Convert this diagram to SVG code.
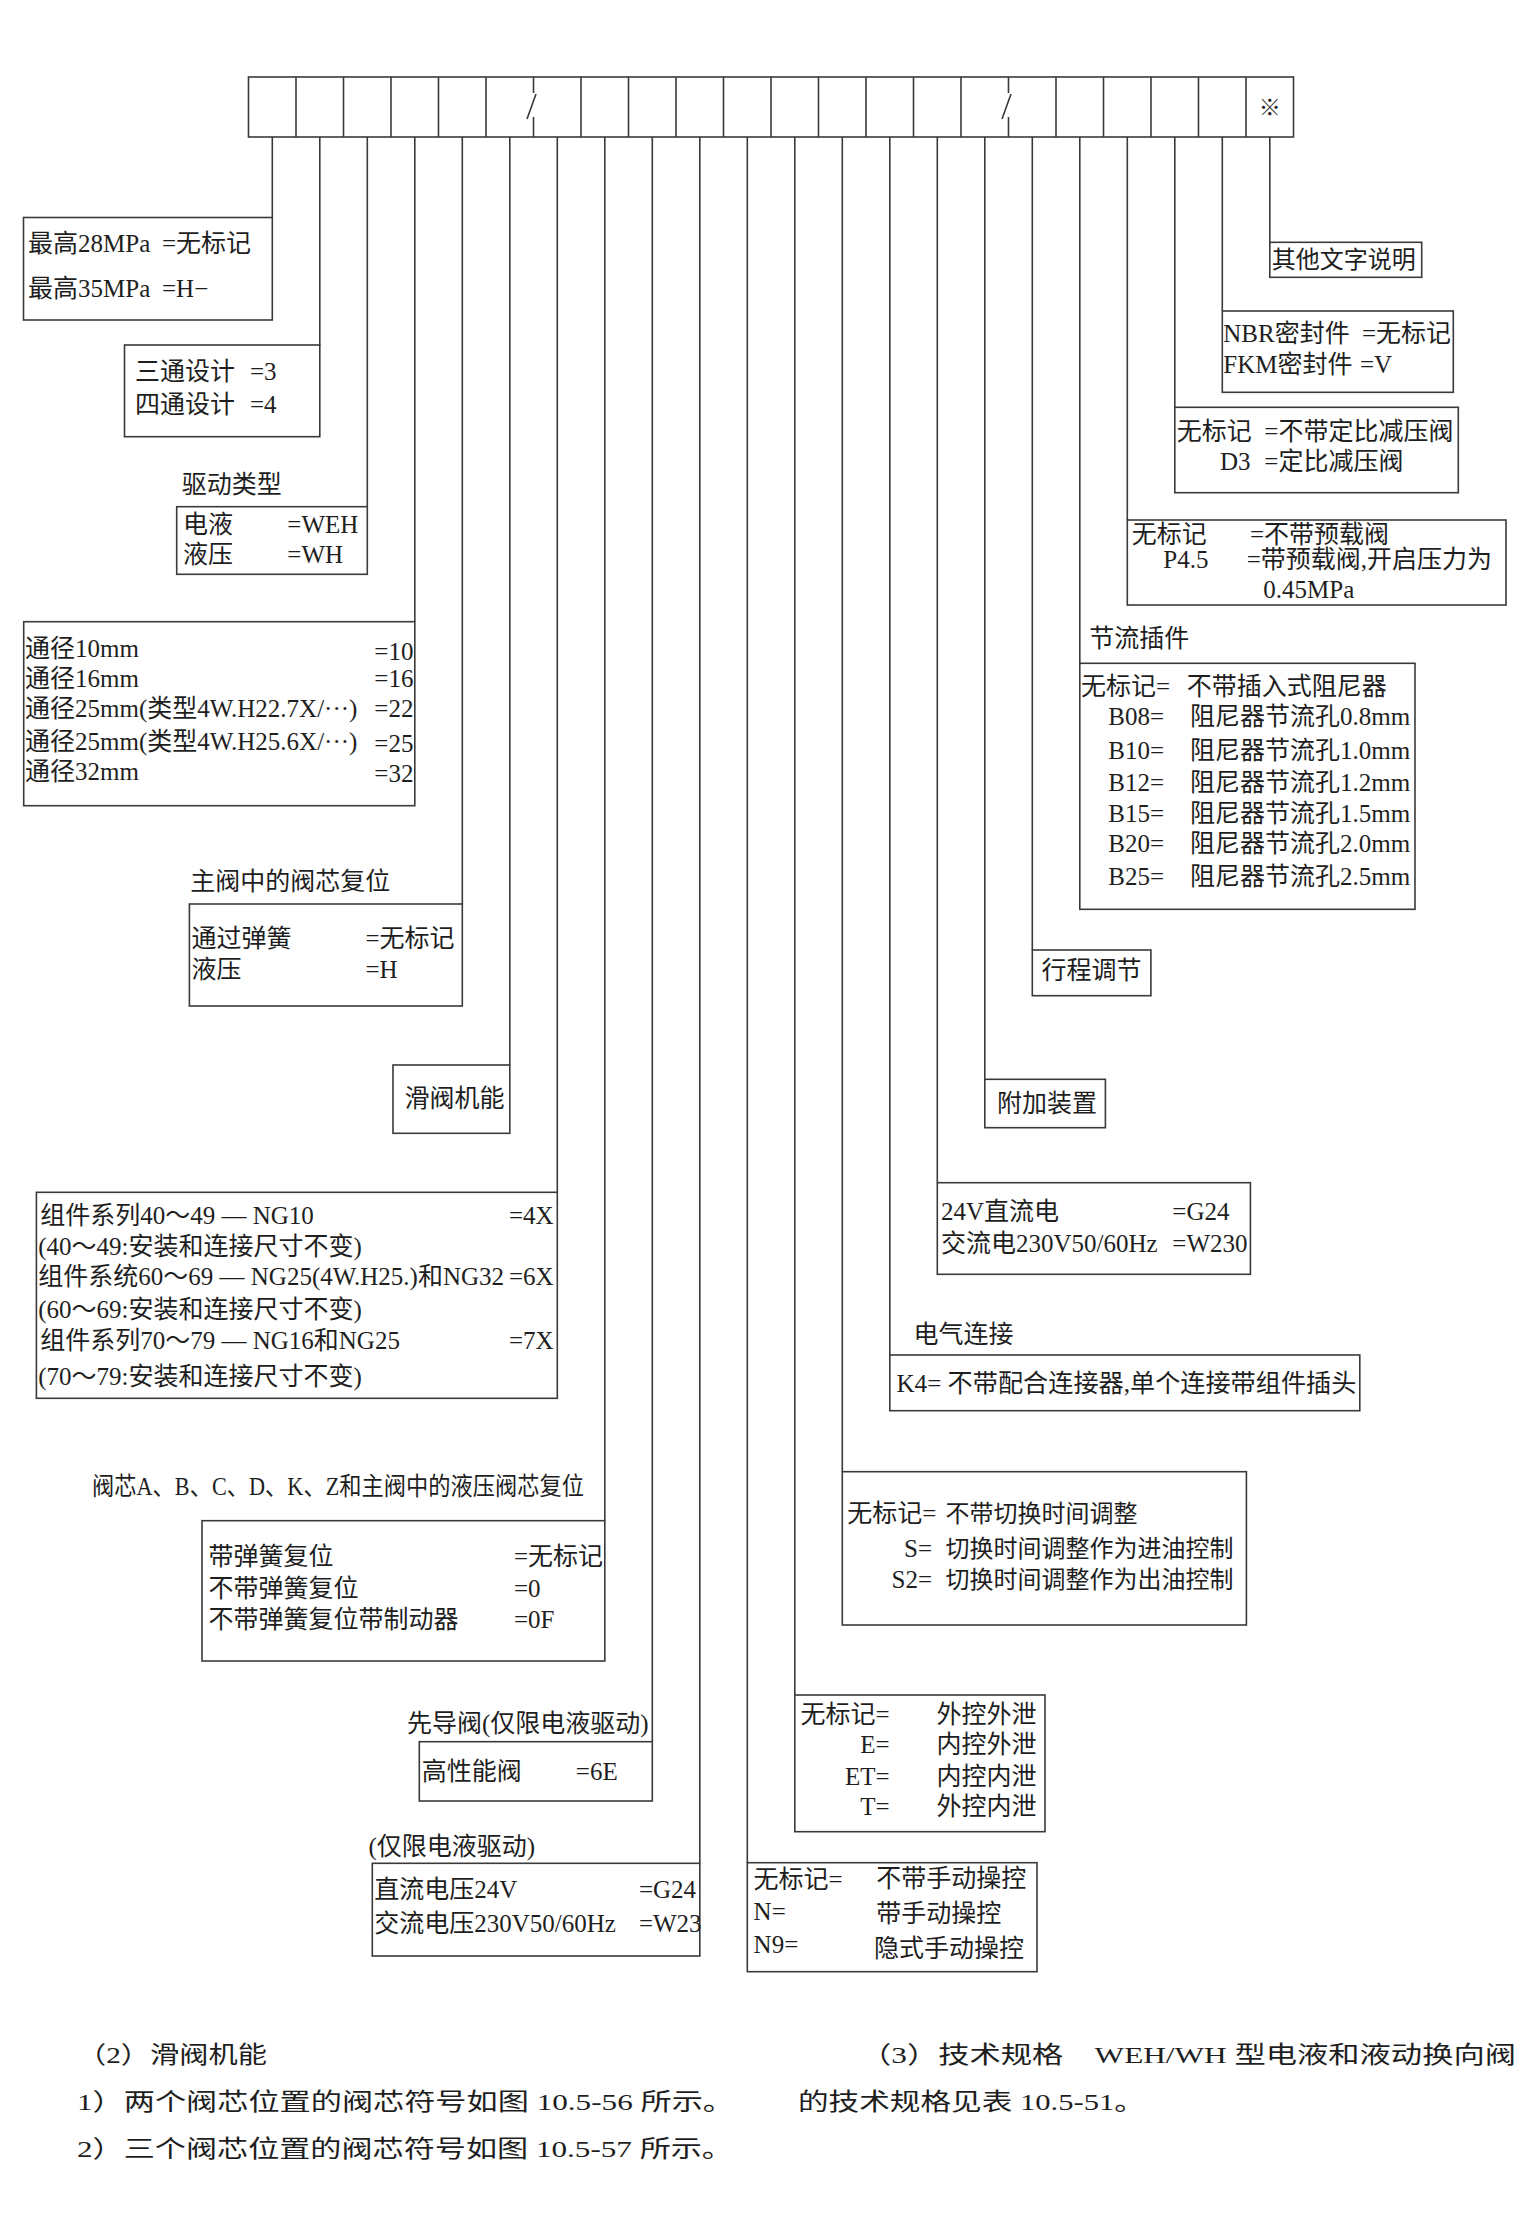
<svg xmlns="http://www.w3.org/2000/svg" width="1535" height="2223" viewBox="0 0 1535 2223">
<style>
.bg{fill:#ffffff}
.box{fill:none;stroke:#3a3a3a;stroke-width:1.6}
.ln{stroke:#3a3a3a;stroke-width:1.6;fill:none}
text{font-family:"Liberation Serif","Noto Sans CJK SC",serif;font-size:25px;fill:#1e1e1e}
.e{text-anchor:end}
.s{font-size:24px}
.p{font-size:24px}
</style>
<rect class="bg" x="0" y="0" width="1535" height="2223"/>

<g id="header">
  <rect class="box" x="248.5" y="77" width="1045" height="60"/>
  <path class="ln" d="M296,77V137M343.5,77V137M391,77V137M438.5,77V137M486,77V137M581,77V137M628.5,77V137M676,77V137M723.5,77V137M771,77V137M818.5,77V137M866,77V137M913.5,77V137M961,77V137M1056,77V137M1103.5,77V137M1151,77V137M1198.5,77V137M1246,77V137"/>
  <path class="ln" d="M533.5,77V93M536,94L527,119M533.5,117V137"/>
  <path class="ln" d="M1008.5,77V93M1011,94L1002,119M1008.5,117V137"/>
  <text x="1269.75" y="115" style="text-anchor:middle;font-size:22px">※</text>
</g>

<g id="connectors">
  <path class="ln" d="M272.3,137V217.5M319.8,137V345M367.3,137V506.7M414.8,137V621.7M462.3,137V904M509.8,137V1065M557.3,137V1192.3M604.8,137V1520.7M652.3,137V1741.7M699.8,137V1863.3M747.3,137V1862.7M794.8,137V1695M842.3,137V1471.7M889.8,137V1355M937.3,137V1182.7M984.8,137V1079.3M1032.3,137V950M1079.8,137V663.3M1127.3,137V520M1174.8,137V407.3M1222.3,137V311M1269.8,137V242.3"/>
</g>

<g id="n_pressure">
  <rect class="box" x="23.5" y="217.5" width="248.8" height="102.5"/>
  <text x="28" y="252">最高28MPa</text><text x="162" y="252">=无标记</text>
  <text x="28" y="297">最高35MPa</text><text x="162" y="297">=H−</text>
</g>

<g id="n_ways">
  <rect class="box" x="124.5" y="345" width="195.3" height="91.7"/>
  <text x="135" y="380">三通设计</text><text x="250" y="380">=3</text>
  <text x="135" y="413">四通设计</text><text x="250" y="413">=4</text>
</g>

<g id="n_drive">
  <text x="181.7" y="493">驱动类型</text>
  <rect class="box" x="176.7" y="506.7" width="190.6" height="67.6"/>
  <text x="183" y="533">电液</text><text x="287.3" y="533">=WEH</text>
  <text x="183" y="563">液压</text><text x="287.3" y="563">=WH</text>
</g>

<g id="n_size">
  <rect class="box" x="23.7" y="621.7" width="391.1" height="184"/>
  <text x="25" y="657">通径10mm</text><text x="374.3" y="660">=10</text>
  <text x="25" y="687">通径16mm</text><text x="374.3" y="687">=16</text>
  <text x="25" y="717">通径25mm(类型4W.H22.7X/···)</text><text x="374.3" y="717">=22</text>
  <text x="25" y="750">通径25mm(类型4W.H25.6X/···)</text><text x="374.3" y="752">=25</text>
  <text x="25" y="780">通径32mm</text><text x="374.3" y="782">=32</text>
</g>

<g id="n_spring">
  <text x="190.2" y="890">主阀中的阀芯复位</text>
  <rect class="box" x="189.4" y="904" width="272.9" height="102"/>
  <text x="191.4" y="947">通过弹簧</text><text x="365.5" y="947">=无标记</text>
  <text x="191.4" y="978">液压</text><text x="365.5" y="978">=H</text>
</g>

<g id="n_spool">
  <rect class="box" x="393" y="1065" width="116.8" height="68.3"/>
  <text x="404.5" y="1107">滑阀机能</text>
</g>

<g id="n_series">
  <rect class="box" x="36.4" y="1192.3" width="520.9" height="206"/>
  <text x="40.2" y="1224">组件系列40～49 — NG10</text><text x="509" y="1224">=4X</text>
  <text x="38.3" y="1255">(40～49:安装和连接尺寸不变)</text>
  <text x="38.3" y="1285">组件系统60～69 — NG25(4W.H25.)和NG32</text><text x="509" y="1285">=6X</text>
  <text x="38.3" y="1318">(60～69:安装和连接尺寸不变)</text>
  <text x="40.2" y="1349">组件系列70～79 — NG16和NG25</text><text x="509" y="1349">=7X</text>
  <text x="38.3" y="1385">(70～79:安装和连接尺寸不变)</text>
</g>

<g id="n_reset">
  <text x="92" y="1495" textLength="492" lengthAdjust="spacingAndGlyphs">阀芯A、B、C、D、K、Z和主阀中的液压阀芯复位</text>
  <rect class="box" x="202" y="1520.7" width="402.8" height="140.3"/>
  <text x="208.4" y="1565">带弹簧复位</text><text x="514" y="1565">=无标记</text>
  <text x="208.4" y="1597">不带弹簧复位</text><text x="514" y="1597">=0</text>
  <text x="208.4" y="1628">不带弹簧复位带制动器</text><text x="514" y="1628">=0F</text>
</g>

<g id="n_pilot">
  <text x="407" y="1732">先导阀(仅限电液驱动)</text>
  <rect class="box" x="419.3" y="1741.7" width="233" height="59.3"/>
  <text x="421.7" y="1780">高性能阀</text><text x="575.8" y="1780">=6E</text>
</g>

<g id="n_voltage">
  <text x="368.4" y="1855">(仅限电液驱动)</text>
  <rect class="box" x="372.3" y="1863.3" width="327.5" height="92.7"/>
  <text x="374.2" y="1898">直流电压24V</text><text x="638.9" y="1898">=G24</text>
  <text x="374.2" y="1932">交流电压230V50/60Hz</text><text x="638.9" y="1932">=W23</text>
</g>

<g id="n_manual">
  <rect class="box" x="747.3" y="1862.7" width="289.7" height="109"/>
  <text x="753.6" y="1888">无标记=</text><text x="876.3" y="1887">不带手动操控</text>
  <text x="753.6" y="1920">N=</text><text x="876.3" y="1922">带手动操控</text>
  <text x="753.6" y="1953">N9=</text><text x="874" y="1957">隐式手动操控</text>
</g>

<g id="n_pilotoil">
  <rect class="box" x="794.8" y="1695" width="250.2" height="136.7"/>
  <text x="800.4" y="1723">无标记=</text><text x="936.6" y="1723">外控外泄</text>
  <text class="e" x="889.7" y="1753">E=</text><text x="936.6" y="1753">内控外泄</text>
  <text class="e" x="889.7" y="1785">ET=</text><text x="936.6" y="1785">内控内泄</text>
  <text class="e" x="889.7" y="1815">T=</text><text x="936.6" y="1815">外控内泄</text>
</g>

<g id="n_switch">
  <rect class="box" x="842.3" y="1471.7" width="404.1" height="153.3"/>
  <text x="847.3" y="1522">无标记=</text><text class="s" x="945.5" y="1522">不带切换时间调整</text>
  <text class="e" x="932" y="1557">S=</text><text class="s" x="945.5" y="1557">切换时间调整作为进油控制</text>
  <text class="e" x="932" y="1588">S2=</text><text class="s" x="945.5" y="1588">切换时间调整作为出油控制</text>
</g>

<g id="n_elec">
  <text x="913.4" y="1343">电气连接</text>
  <rect class="box" x="889.8" y="1355" width="470" height="55.7"/>
  <text x="896.4" y="1392" textLength="460" lengthAdjust="spacingAndGlyphs">K4= 不带配合连接器,单个连接带组件插头</text>
</g>

<g id="n_solenoid">
  <rect class="box" x="937.3" y="1182.7" width="313.1" height="91.6"/>
  <text x="941" y="1220">24V直流电</text><text x="1172.3" y="1220">=G24</text>
  <text x="941" y="1252">交流电230V50/60Hz</text><text x="1172.3" y="1252">=W230</text>
</g>

<g id="n_extra">
  <rect class="box" x="984.8" y="1079.3" width="120.6" height="48.4"/>
  <text x="996.9" y="1112">附加装置</text>
</g>

<g id="n_stroke">
  <rect class="box" x="1032.3" y="950" width="118.6" height="45.7"/>
  <text x="1041.5" y="979">行程调节</text>
</g>

<g id="n_throttle">
  <text x="1089.3" y="647">节流插件</text>
  <rect class="box" x="1079.8" y="663.3" width="335.2" height="246"/>
  <text x="1081" y="695">无标记=</text><text x="1186.7" y="695">不带插入式阻尼器</text>
  <text x="1108.3" y="725">B08=</text><text x="1190" y="725">阻尼器节流孔0.8mm</text>
  <text x="1108.3" y="759">B10=</text><text x="1190" y="759">阻尼器节流孔1.0mm</text>
  <text x="1108.3" y="791">B12=</text><text x="1190" y="791">阻尼器节流孔1.2mm</text>
  <text x="1108.3" y="822">B15=</text><text x="1190" y="822">阻尼器节流孔1.5mm</text>
  <text x="1108.3" y="852">B20=</text><text x="1190" y="852">阻尼器节流孔2.0mm</text>
  <text x="1108.3" y="885">B25=</text><text x="1190" y="885">阻尼器节流孔2.5mm</text>
</g>

<g id="n_preload">
  <rect class="box" x="1127.3" y="520" width="378.7" height="85"/>
  <text x="1131.7" y="543">无标记</text><text x="1250" y="543">=不带预载阀</text>
  <text x="1163.3" y="568">P4.5</text><text x="1246.7" y="568">=带预载阀,开启压力为</text>
  <text x="1263.3" y="598">0.45MPa</text>
</g>

<g id="n_reducer">
  <rect class="box" x="1174.8" y="407.3" width="283.5" height="85.4"/>
  <text x="1176.7" y="440">无标记</text><text x="1264.3" y="440">=不带定比减压阀</text>
  <text x="1220" y="470">D3</text><text x="1264.3" y="470">=定比减压阀</text>
</g>

<g id="n_seal">
  <rect class="box" x="1222.3" y="311" width="231" height="81.3"/>
  <text x="1223.3" y="342">NBR密封件</text><text x="1362" y="342">=无标记</text>
  <text x="1223.3" y="373">FKM密封件</text><text x="1360" y="373">=V</text>
</g>

<g id="n_other">
  <rect class="box" x="1269.8" y="242.3" width="151.9" height="35"/>
  <text class="s" x="1271.7" y="268">其他文字说明</text>
</g>

<g id="caption">
  <text class="p" x="77" y="2063" textLength="190" lengthAdjust="spacingAndGlyphs">（2）滑阀机能</text>
  <text class="p" x="77" y="2110" textLength="657" lengthAdjust="spacingAndGlyphs">1）两个阀芯位置的阀芯符号如图 10.5-56 所示。</text>
  <text class="p" x="77" y="2157" textLength="656" lengthAdjust="spacingAndGlyphs">2）三个阀芯位置的阀芯符号如图 10.5-57 所示。</text>
  <text class="p" x="860" y="2063" textLength="656" lengthAdjust="spacingAndGlyphs">（3）技术规格　WEH/WH 型电液和液动换向阀</text>
  <text class="p" x="798" y="2110" textLength="347" lengthAdjust="spacingAndGlyphs">的技术规格见表 10.5-51。</text>
</g>
</svg>
